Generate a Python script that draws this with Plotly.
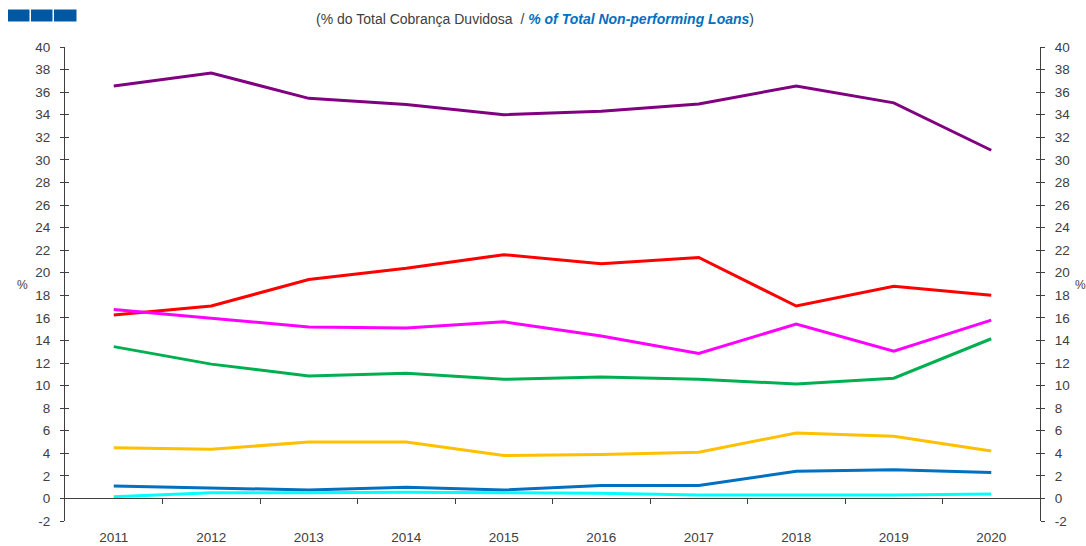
import plotly.graph_objects as go

years = ["2011", "2012", "2013", "2014", "2015", "2016", "2017", "2018", "2019", "2020"]

purple = [36.55, 37.7, 35.45, 34.9, 34.0, 34.3, 34.95, 36.55, 35.05, 30.85]
red = [16.25, 17.05, 19.4, 20.4, 21.6, 20.8, 21.35, 17.05, 18.8, 18.0]
magenta = [16.75, 16.0, 15.2, 15.1, 15.65, 14.4, 12.85, 15.45, 13.05, 15.8]
green = [13.45, 11.9, 10.85, 11.1, 10.55, 10.75, 10.55, 10.15, 10.65, 14.15]
yellow = [4.5, 4.35, 5.0, 5.0, 3.8, 3.9, 4.1, 5.8, 5.5, 4.2]
blue = [1.1, 0.95, 0.75, 1.0, 0.75, 1.15, 1.15, 2.4, 2.55, 2.3]
cyan = [0.15, 0.5, 0.5, 0.55, 0.5, 0.45, 0.3, 0.3, 0.3, 0.4]

y_ticks = list(range(-2, 41, 2))
y_ticktext = [str(v) for v in y_ticks]

series = [
    ("Série 1", purple, "#800080"),
    ("Série 2", red, "#FF0000"),
    ("Série 3", magenta, "#FF00FF"),
    ("Série 4", green, "#00B050"),
    ("Série 5", yellow, "#FFC000"),
    ("Série 6", blue, "#0070C0"),
    ("Série 7", cyan, "#00FFFF"),
]

W, H = 1086, 546
L, R, T, B = 65, 46, 47, 25
pw, ph = W - L - R, H - T - B

def px_x(p):
    return (p - L) / pw

def px_y(p):
    return (H - B - p) / ph

idx = list(range(len(years)))
ymin, ymax = -2, 40
axc = "#404040"
fam = "Liberation Sans, Arial, sans-serif"
font = dict(family=fam, size=13.5, color="#404040")

fig = go.Figure()
for name, vals, col in series:
    fig.add_trace(go.Scatter(x=idx, y=vals, name=name, mode="lines",
                             line=dict(color=col, width=3), showlegend=False))

# helper empty traces to activate decorative axes
fig.add_trace(go.Scatter(x=[], y=[], xaxis="x2", yaxis="y", showlegend=False, hoverinfo="skip"))
for ya in ["y2", "y3", "y4"]:
    fig.add_trace(go.Scatter(x=[], y=[], xaxis="x", yaxis=ya, showlegend=False, hoverinfo="skip"))

yax_common = dict(range=[ymin, ymax], tickvals=y_ticks, ticktext=y_ticktext,
                  showgrid=False, zeroline=False, automargin=False,
                  showline=True, linecolor=axc, linewidth=1, tickcolor=axc,
                  tickfont=font, ticklen=4, fixedrange=True)

fig.update_layout(
    width=W, height=H,
    margin=dict(l=L, r=R, t=T, b=B, autoexpand=False),
    plot_bgcolor="white", paper_bgcolor="white",
    xaxis=dict(range=[-0.5, len(years) - 0.5], tickvals=idx, ticktext=years,
               showline=False, showgrid=False, zeroline=False, ticks="",
               tickfont=font, ticklabelstandoff=6, automargin=False),
    xaxis2=dict(range=[-0.5, len(years) - 0.5], overlaying="x", anchor="free",
                position=(0 - ymin) / (ymax - ymin), automargin=False,
                tickvals=[i + 0.5 for i in idx[:-1]], ticks="outside", ticklen=5,
                tickcolor=axc, showline=True, linecolor=axc, linewidth=1,
                showticklabels=False, showgrid=False, zeroline=False),
    yaxis=dict(side="left", ticks="outside", ticklabelstandoff=7, **yax_common),
    yaxis3=dict(side="left", overlaying="y", anchor="x", ticks="inside",
                showticklabels=False, **yax_common),
    yaxis2=dict(side="right", overlaying="y", anchor="x", ticks="outside",
                ticklabelstandoff=7, **yax_common),
    yaxis4=dict(side="right", overlaying="y", anchor="x", ticks="inside",
                showticklabels=False, **yax_common),
)

fig.add_annotation(x=px_x(22), y=px_y(285), xref="paper", yref="paper", text="%",
                   xanchor="center", yanchor="middle",
                   showarrow=False, font=dict(family=fam, size=12, color="#404040"))
fig.add_annotation(x=px_x(1080), y=px_y(285), xref="paper", yref="paper", text="%",
                   xanchor="center", yanchor="middle",
                   showarrow=False, font=dict(family=fam, size=12, color="#404040"))

fig.add_annotation(
    x=px_x(535), y=px_y(19), xref="paper", yref="paper", showarrow=False,
    xanchor="center", yanchor="middle",
    text="(% do Total Cobrança Duvidosa  / <b><i><span style='color:#0070C0'>% of Total Non-performing Loans</span></i></b>)",
    font=dict(family=fam, size=14, color="#404040"),
)

for x0, x1 in [(8, 29.5), (31, 52.5), (54, 76.5)]:
    fig.add_shape(type="rect", xref="paper", yref="paper",
                  x0=px_x(x0), x1=px_x(x1), y0=px_y(9.5), y1=px_y(21.5),
                  fillcolor="#0058A3", line=dict(width=0))

fig.write_html("out.html", config={"displayModeBar": False},
               post_script="document.body.style.margin='0';")
